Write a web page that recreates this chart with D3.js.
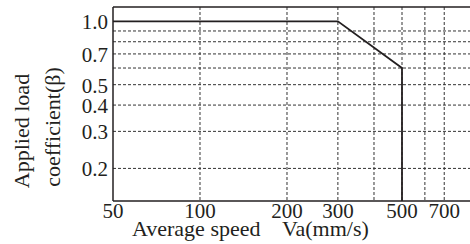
<!DOCTYPE html>
<html><head><meta charset="utf-8">
<script src="https://cdn.jsdelivr.net/npm/d3@7"></script>
<style>html,body{margin:0;padding:0;background:#fff;overflow:hidden}</style>
</head><body>
<script>
const xTickValues = [50, 100, 200, 300, 500, 700];
const xGridValues = [100, 200, 300, 400, 500, 600, 700];
const yTickValues = [0.2, 0.3, 0.4, 0.5, 0.7, 1.0];
const yGridValues = [0.2, 0.3, 0.4, 0.5, 0.6, 0.7, 0.8, 0.9];
const speed = [50, 300, 500, 500];
const coefficient = [1.0, 1.0, 0.6, 0.14];
const xTitle = "Average speed    Va(mm/s)";
const yTitle1 = "Applied load";
const yTitle2 = "coefficient(β)";

(function () {
const W = 470, H = 244;
const svg = d3.select("body").append("svg").attr("width", W).attr("height", H);
const pLeft = 113, pTop = 7, pBottom = 201, pRight = 489;
const x = d3.scaleLog().domain([50, 1000]).range([pLeft, pRight]);
const y = d3.scaleLog().domain([0.14, 1.17]).range([pBottom, pTop]);
const font = "'Liberation Serif','Times New Roman',serif";
const ink = "#231f20";

svg.append("g").selectAll("line").data(yGridValues).join("line")
  .attr("x1", pLeft).attr("x2", W).attr("y1", d => y(d)).attr("y2", d => y(d))
  .attr("stroke", "#333").attr("stroke-width", 1).attr("stroke-dasharray", "3,2");
svg.append("g").selectAll("line").data(xGridValues).join("line")
  .attr("y1", pTop).attr("y2", pBottom).attr("x1", d => x(d)).attr("x2", d => x(d))
  .attr("stroke", "#333").attr("stroke-width", 1).attr("stroke-dasharray", "3,2");

svg.append("line").attr("x1", pLeft).attr("x2", W).attr("y1", pTop).attr("y2", pTop).attr("stroke", ink).attr("stroke-width", 1.5);
svg.append("line").attr("x1", pLeft).attr("x2", W).attr("y1", pBottom).attr("y2", pBottom).attr("stroke", ink).attr("stroke-width", 1.5);
svg.append("line").attr("x1", pLeft).attr("x2", pLeft).attr("y1", pTop).attr("y2", pBottom).attr("stroke", ink).attr("stroke-width", 1.5);

const line = d3.line().x(d => x(d[0])).y(d => y(d[1]));
svg.append("path").datum(speed.map((s, i) => [s, coefficient[i]]))
  .attr("d", line).attr("fill", "none").attr("stroke", ink).attr("stroke-width", 1.8);

svg.append("g").selectAll("text").data(xTickValues).join("text")
  .attr("x", d => x(d)).attr("y", 218).attr("text-anchor", "middle")
  .attr("font-family", font).attr("font-size", 21).attr("fill", ink).text(d => d);
svg.append("g").selectAll("text").data(yTickValues).join("text")
  .attr("x", 108).attr("y", d => y(d) + 8).attr("text-anchor", "end")
  .attr("font-family", font).attr("font-size", 21).attr("fill", ink).text(d => d3.format(".1f")(d));

svg.append("text").attr("x", 132).attr("y", 236).attr("font-family", font).attr("font-size", 22)
  .attr("fill", ink).style("white-space", "pre").text(xTitle);
svg.append("text").attr("transform", "translate(29,131) rotate(-90)").attr("text-anchor", "middle")
  .attr("font-family", font).attr("font-size", 22).attr("fill", ink).text(yTitle1);
svg.append("text").attr("transform", "translate(60,127) rotate(-90)").attr("text-anchor", "middle")
  .attr("font-family", font).attr("font-size", 22).attr("fill", ink).text(yTitle2);
})();
</script>
</body></html>
